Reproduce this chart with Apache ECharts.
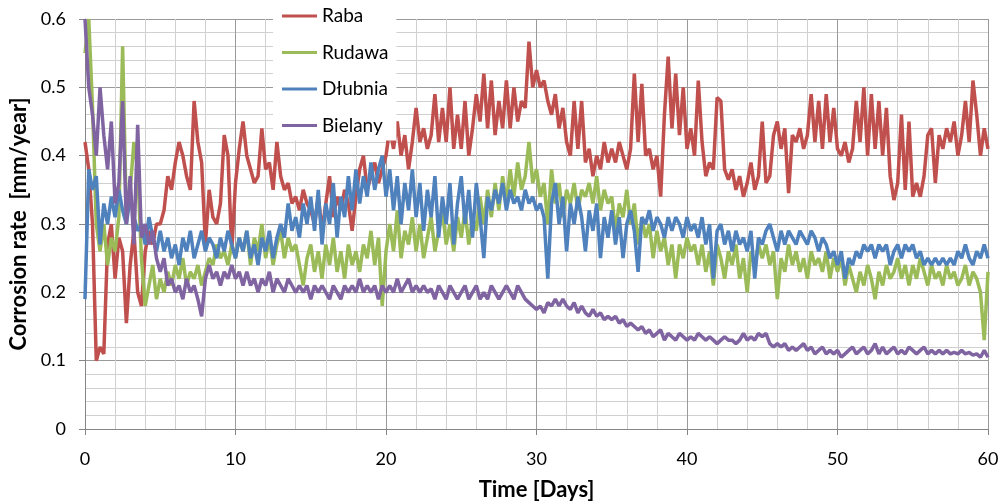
<!DOCTYPE html>
<html>
<head>
<meta charset="utf-8">
<title>Corrosion rate</title>
<script src="https://cdn.jsdelivr.net/npm/echarts@6/dist/echarts.min.js"></script>
<style>
  html, body { margin: 0; padding: 0; background: #fff; }
  #chart { width: 1000px; height: 502px; }
</style>
</head>
<body>
<div id="chart"></div>
<script>
// samples every 0.25 day, from day 0 to day 60
const STEP = 0.25;
const seriesNames = ['Raba', 'Rudawa', 'Dłubnia', 'Bielany'];
const colors = ['#c0504d', '#9bbb59', '#4f81bd', '#8064a2'];

const raba = [
  0.42, 0.38, 0.30, 0.10, 0.12, 0.11, 0.27, 0.30, 0.22, 0.28, 0.26, 0.155, 0.24, 0.29, 0.20, 0.18, 0.26, 0.29, 0.27, 0.30,
  0.30, 0.32, 0.37, 0.35, 0.39, 0.42, 0.40, 0.37, 0.35, 0.48, 0.42, 0.39, 0.27, 0.35, 0.31, 0.30, 0.33, 0.43, 0.40, 0.26,
  0.36, 0.41, 0.45, 0.40, 0.38, 0.36, 0.37, 0.44, 0.38, 0.39, 0.35, 0.42, 0.37, 0.35, 0.36, 0.33, 0.34, 0.32, 0.35, 0.33,
  0.32, 0.30, 0.34, 0.29, 0.33, 0.37, 0.31, 0.34, 0.32, 0.35, 0.33, 0.29, 0.34, 0.38, 0.40, 0.35, 0.37, 0.39, 0.36, 0.38,
  0.40, 0.44, 0.41, 0.45, 0.40, 0.43, 0.38, 0.42, 0.47, 0.42, 0.44, 0.41, 0.43, 0.49, 0.42, 0.47, 0.42, 0.50, 0.41, 0.46,
  0.41, 0.48, 0.40, 0.44, 0.49, 0.45, 0.52, 0.44, 0.51, 0.43, 0.48, 0.44, 0.51, 0.44, 0.50, 0.45, 0.48, 0.47, 0.567, 0.50,
  0.525, 0.50, 0.51, 0.48, 0.46, 0.49, 0.44, 0.47, 0.42, 0.40, 0.48, 0.41, 0.48, 0.39, 0.41, 0.37, 0.40, 0.38, 0.42, 0.39,
  0.41, 0.39, 0.42, 0.40, 0.38, 0.41, 0.52, 0.42, 0.505, 0.40, 0.41, 0.38, 0.40, 0.34, 0.46, 0.545, 0.44, 0.52, 0.43, 0.50,
  0.41, 0.44, 0.40, 0.51, 0.42, 0.37, 0.39, 0.38, 0.485, 0.48, 0.38, 0.365, 0.38, 0.35, 0.37, 0.34, 0.36, 0.39, 0.35, 0.37,
  0.45, 0.36, 0.37, 0.43, 0.45, 0.41, 0.44, 0.345, 0.43, 0.42, 0.44, 0.41, 0.43, 0.49, 0.42, 0.48, 0.41, 0.49, 0.42, 0.47,
  0.41, 0.40, 0.42, 0.39, 0.41, 0.48, 0.42, 0.50, 0.40, 0.49, 0.41, 0.48, 0.40, 0.47, 0.37, 0.335, 0.36, 0.46, 0.35, 0.45,
  0.34, 0.36, 0.34, 0.37, 0.43, 0.44, 0.36, 0.43, 0.41, 0.44, 0.42, 0.45, 0.40, 0.43, 0.48, 0.42, 0.51, 0.46, 0.40, 0.44,
  0.41
];

const rudawa = [
  0.55, 0.60, 0.47, 0.30, 0.26, 0.30, 0.24, 0.28, 0.26, 0.31, 0.56, 0.31, 0.35, 0.42, 0.38, 0.25, 0.18, 0.21, 0.24, 0.19,
  0.22, 0.20, 0.23, 0.21, 0.24, 0.22, 0.25, 0.21, 0.23, 0.22, 0.24, 0.21, 0.23, 0.25, 0.24, 0.27, 0.25, 0.26, 0.24, 0.27,
  0.25, 0.28, 0.26, 0.29, 0.24, 0.28, 0.26, 0.30, 0.25, 0.28, 0.24, 0.27, 0.29, 0.25, 0.28, 0.26, 0.27, 0.24, 0.21, 0.25,
  0.27, 0.23, 0.26, 0.22, 0.27, 0.24, 0.28, 0.23, 0.26, 0.22, 0.27, 0.24, 0.26, 0.23, 0.27, 0.25, 0.29, 0.24, 0.28, 0.18,
  0.26, 0.30, 0.26, 0.32, 0.25, 0.29, 0.27, 0.31, 0.26, 0.30, 0.25, 0.28, 0.31, 0.26, 0.29, 0.32, 0.27, 0.30, 0.26, 0.31,
  0.28, 0.32, 0.27, 0.31, 0.29, 0.34, 0.30, 0.35, 0.31, 0.36, 0.32, 0.37, 0.33, 0.38, 0.34, 0.39, 0.35, 0.37, 0.42, 0.36,
  0.38, 0.34, 0.36, 0.30, 0.38, 0.33, 0.36, 0.31, 0.35, 0.33, 0.36, 0.32, 0.35, 0.34, 0.36, 0.33, 0.37, 0.32, 0.35, 0.33,
  0.34, 0.29, 0.33, 0.31, 0.35, 0.30, 0.33, 0.27, 0.31, 0.28, 0.30, 0.25, 0.29, 0.26, 0.28, 0.24, 0.27, 0.22, 0.27, 0.25,
  0.28, 0.26, 0.27, 0.24, 0.27, 0.23, 0.26, 0.21, 0.27, 0.25, 0.22, 0.26, 0.24, 0.27, 0.22, 0.25, 0.20, 0.26, 0.24, 0.27,
  0.25, 0.27, 0.24, 0.26, 0.19, 0.25, 0.23, 0.27, 0.24, 0.26, 0.23, 0.25, 0.22, 0.26, 0.24, 0.25, 0.23, 0.26, 0.22, 0.25,
  0.23, 0.25, 0.21, 0.24, 0.22, 0.20, 0.23, 0.21, 0.24, 0.22, 0.19, 0.23, 0.21, 0.24, 0.22, 0.23, 0.25, 0.22, 0.24, 0.21,
  0.24, 0.22, 0.25, 0.23, 0.21, 0.24, 0.22, 0.23, 0.21, 0.24, 0.22, 0.23, 0.21, 0.22, 0.24, 0.21, 0.23, 0.22, 0.20, 0.13,
  0.23
];

const dlubnia = [
  0.19, 0.38, 0.35, 0.37, 0.27, 0.33, 0.30, 0.34, 0.31, 0.35, 0.32, 0.30, 0.34, 0.31, 0.29, 0.30, 0.27, 0.31, 0.28, 0.26,
  0.29, 0.26, 0.28, 0.25, 0.27, 0.24, 0.28, 0.26, 0.29, 0.25, 0.27, 0.29, 0.26, 0.28, 0.27, 0.25, 0.28, 0.26, 0.29, 0.27,
  0.25, 0.28, 0.26, 0.29, 0.25, 0.27, 0.24, 0.28, 0.26, 0.29, 0.25, 0.28, 0.30, 0.28, 0.33, 0.29, 0.31, 0.28, 0.33, 0.30,
  0.34, 0.29, 0.35, 0.27, 0.33, 0.30, 0.36, 0.28, 0.34, 0.31, 0.37, 0.32, 0.38, 0.33, 0.37, 0.34, 0.39, 0.35, 0.38, 0.40,
  0.34, 0.38, 0.32, 0.37, 0.30, 0.36, 0.32, 0.38, 0.31, 0.36, 0.29, 0.35, 0.31, 0.37, 0.28, 0.34, 0.30, 0.36, 0.27, 0.33,
  0.37, 0.30, 0.35, 0.28, 0.36, 0.31, 0.25, 0.34, 0.32, 0.35, 0.33, 0.36, 0.32, 0.35, 0.33, 0.34, 0.32, 0.35, 0.33, 0.34,
  0.32, 0.33, 0.31, 0.22, 0.33, 0.36, 0.30, 0.34, 0.26, 0.33, 0.30, 0.34, 0.31, 0.26, 0.32, 0.29, 0.33, 0.25, 0.31, 0.28,
  0.32, 0.27, 0.31, 0.25, 0.30, 0.32, 0.29, 0.23, 0.31, 0.30, 0.32, 0.29, 0.31, 0.30, 0.28, 0.31, 0.29, 0.31, 0.30, 0.28,
  0.31, 0.29, 0.30, 0.28, 0.31, 0.27, 0.30, 0.22, 0.29, 0.30, 0.27, 0.29, 0.26, 0.29, 0.27, 0.28, 0.26, 0.29, 0.22, 0.28,
  0.27, 0.29, 0.30, 0.28, 0.26, 0.29, 0.27, 0.29, 0.28, 0.27, 0.29, 0.28, 0.27, 0.29, 0.28, 0.26, 0.28, 0.27, 0.25, 0.26,
  0.24, 0.26, 0.22, 0.25, 0.24, 0.26, 0.25, 0.27, 0.26, 0.27, 0.25, 0.27, 0.26, 0.27, 0.24, 0.26, 0.27, 0.25, 0.27, 0.26,
  0.27, 0.25, 0.26, 0.24, 0.25, 0.24, 0.25, 0.24, 0.25, 0.24, 0.25, 0.24, 0.26, 0.25, 0.27, 0.25, 0.24, 0.26, 0.25, 0.27,
  0.25
];

const bielany = [
  0.60, 0.50, 0.46, 0.40, 0.50, 0.43, 0.38, 0.45, 0.33, 0.36, 0.48, 0.30, 0.37, 0.27, 0.445, 0.28, 0.30, 0.27, 0.29, 0.25,
  0.23, 0.25, 0.21, 0.22, 0.20, 0.21, 0.19, 0.22, 0.20, 0.21, 0.19, 0.165, 0.22, 0.24, 0.22, 0.23, 0.21, 0.23, 0.22, 0.24,
  0.22, 0.23, 0.21, 0.23, 0.21, 0.22, 0.20, 0.22, 0.21, 0.23, 0.20, 0.22, 0.21, 0.20, 0.22, 0.21, 0.20, 0.21, 0.20, 0.21,
  0.19, 0.21, 0.20, 0.21, 0.20, 0.19, 0.21, 0.20, 0.19, 0.21, 0.20, 0.21, 0.20, 0.22, 0.20, 0.21, 0.20, 0.21, 0.19, 0.21,
  0.20, 0.21, 0.20, 0.22, 0.20, 0.21, 0.22, 0.20, 0.21, 0.20, 0.21, 0.20, 0.205, 0.19, 0.21, 0.20, 0.19, 0.21, 0.20, 0.19,
  0.20, 0.21, 0.19, 0.20, 0.21, 0.19, 0.20, 0.19, 0.21, 0.20, 0.19, 0.20, 0.21, 0.20, 0.19, 0.21, 0.20, 0.19, 0.185, 0.18,
  0.175, 0.18, 0.17, 0.185, 0.18, 0.19, 0.18, 0.19, 0.18, 0.175, 0.185, 0.17, 0.18, 0.17, 0.165, 0.175, 0.165, 0.17, 0.16, 0.165,
  0.16, 0.165, 0.155, 0.16, 0.15, 0.155, 0.15, 0.145, 0.15, 0.14, 0.145, 0.135, 0.14, 0.145, 0.13, 0.14, 0.135, 0.13, 0.14, 0.135,
  0.13, 0.135, 0.13, 0.14, 0.135, 0.13, 0.135, 0.13, 0.125, 0.13, 0.135, 0.13, 0.13, 0.125, 0.13, 0.14, 0.13, 0.135, 0.13, 0.14,
  0.135, 0.14, 0.125, 0.12, 0.125, 0.12, 0.125, 0.115, 0.12, 0.115, 0.12, 0.125, 0.115, 0.12, 0.11, 0.115, 0.12, 0.11, 0.115, 0.11,
  0.115, 0.105, 0.11, 0.115, 0.12, 0.11, 0.115, 0.12, 0.11, 0.115, 0.125, 0.11, 0.12, 0.11, 0.115, 0.12, 0.11, 0.115, 0.11, 0.12,
  0.115, 0.11, 0.115, 0.12, 0.11, 0.115, 0.11, 0.115, 0.11, 0.115, 0.11, 0.112, 0.11, 0.115, 0.11, 0.112, 0.108, 0.11, 0.105, 0.115,
  0.105
];

const allValues = [raba, rudawa, dlubnia, bielany];
const FONT = 'Lato';

const chart = echarts.init(document.getElementById('chart'), null, { renderer: 'canvas' });

const option = {
  animation: false,
  backgroundColor: '#fff',
  textStyle: { fontFamily: FONT, color: '#000' },
  grid: { left: 85, right: 12, top: 19, bottom: 73, show: false, outerBoundsMode: 'none' },
  legend: {
    orient: 'vertical',
    left: 273,
    top: 0,
    padding: [6, 8, 5, 9],
    backgroundColor: '#fff',
    icon: 'rect',
    itemWidth: 35,
    itemHeight: 3,
    itemGap: 16.5,
    textStyle: { fontFamily: FONT, fontSize: 19, color: '#000', lineHeight: 20 },
    data: seriesNames
  },
  xAxis: {
    type: 'value',
    min: 0,
    max: 60,
    interval: 10,
    name: 'Time [Days]',
    nameLocation: 'middle',
    nameGap: 50,
    nameTextStyle: { fontFamily: FONT, fontSize: 22, fontWeight: 'bold', color: '#000' },
    axisLine: { show: true, onZero: false, lineStyle: { color: '#868686', width: 1 } },
    axisTick: { show: true, length: 6, lineStyle: { color: '#868686' } },
    axisLabel: { fontFamily: FONT, fontSize: 18, color: '#000', margin: 21 },
    splitLine: { show: true, lineStyle: { color: '#9a9a9a', width: 1 } },
    minorTick: { show: false, splitNumber: 5 },
    minorSplitLine: { show: true, lineStyle: { color: '#d0d0d0', width: 1 } }
  },
  yAxis: {
    type: 'value',
    min: 0,
    max: 0.6,
    interval: 0.1,
    name: 'Corrosion rate  [mm/year]',
    nameLocation: 'middle',
    nameGap: 50,
    nameTextStyle: { fontFamily: FONT, fontSize: 22, fontWeight: 'bold', color: '#000' },
    axisLine: { show: true, lineStyle: { color: '#868686', width: 1 } },
    axisTick: { show: true, length: 6, lineStyle: { color: '#868686' } },
    axisLabel: { fontFamily: FONT, fontSize: 18, color: '#000', margin: 19 },
    splitLine: { show: true, lineStyle: { color: '#9a9a9a', width: 1 } },
    minorTick: { show: false, splitNumber: 5 },
    minorSplitLine: { show: true, lineStyle: { color: '#d0d0d0', width: 1 } }
  },
  series: seriesNames.map((name, k) => ({
    name: name,
    type: 'line',
    showSymbol: false,
    symbol: 'none',
    sampling: null,
    color: colors[k],
    lineStyle: { color: colors[k], width: 3.5 },
    data: allValues[k].map((v, i) => [i * STEP, v])
  }))
};

chart.setOption(option);
</script>
</body>
</html>
